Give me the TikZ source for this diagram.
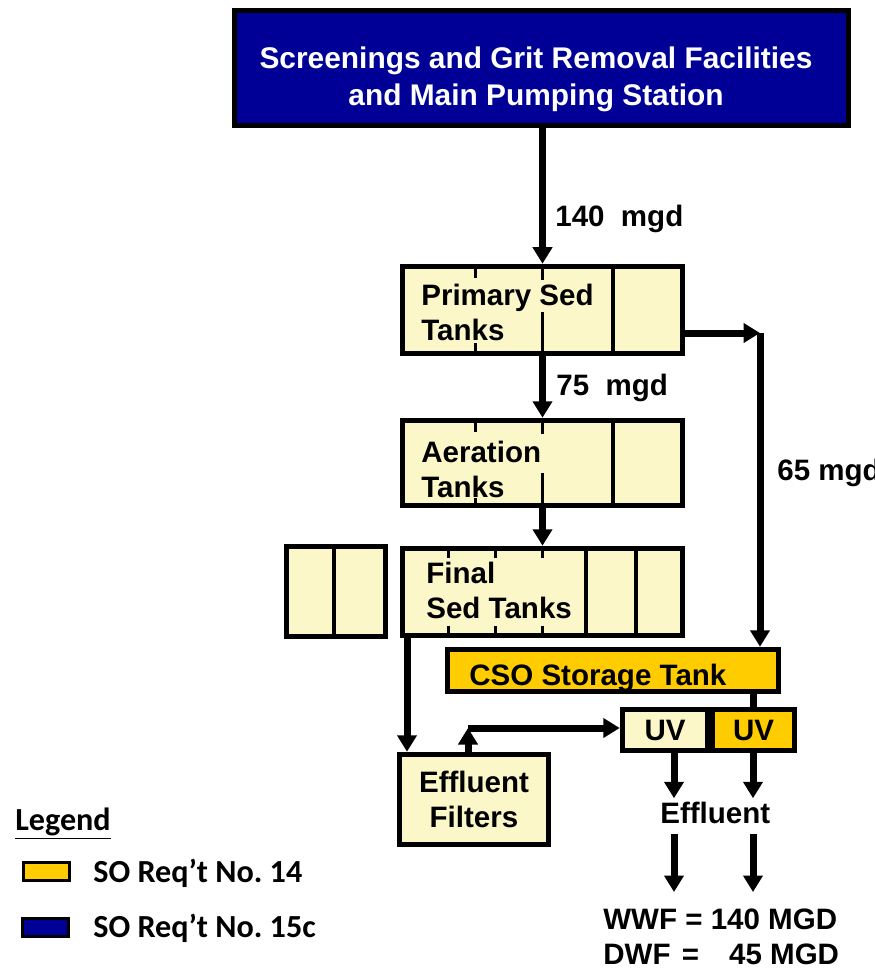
\documentclass[tikz,border=0pt]{standalone}
\usepackage{fontspec}
\setmainfont{Liberation Sans}
\newfontfamily\legendfont{Carlito}
\usetikzlibrary{arrows.meta}
\definecolor{tankfill}{HTML}{FBF7C9}
\definecolor{csofill}{HTML}{FFCC00}
\definecolor{hwfill}{HTML}{000096}

\begin{document}
\begin{tikzpicture}[x=0.2mm,y=-0.2mm,
        txt/.style={font=\fontsize{16.8}{20}\selectfont\bfseries,inner sep=0pt},
        leg/.style={font=\fontsize{18.3}{20}\legendfont\bfseries,inner sep=0pt},
        flow/.style={line width=1.4mm,-{Triangle[length=3.3mm,width=3.8mm]}},
        part/.style={line width=0.7mm},
        tick/.style={line width=0.6mm}]
    \useasboundingbox (0,0) rectangle (874,970);
    \begin{scope}[every node/.style={draw,line width=1.1mm,fill=tankfill,inner sep=0pt,
            font=\fontsize{16.8}{20}\selectfont\bfseries}]
        \node [fill=hwfill,minimum width=122.8mm,minimum height=23mm](hw) at (541.5,68) {};
        \node [minimum width=56mm,minimum height=17.4mm](prim) at (542.5,310) {};
        \node [minimum width=56mm,minimum height=17mm](aer) at (542.5,463) {};
        \node [minimum width=56mm,minimum height=17.4mm](fin) at (542.5,592) {};
        \node [minimum width=19.8mm,minimum height=18mm](spare) at (336,591.5) {};
        \node [fill=csofill,minimum width=66.2mm,minimum height=8.4mm](cso) at (613,670.5) {};
        \node [minimum width=17mm,minimum height=8.2mm](uvA) at (665,730) {UV};
        \node [fill=csofill,minimum width=16.4mm,minimum height=8.2mm](uvB) at (753.5,730) {UV};
        \node [align=center,minimum width=29.8mm,minimum height=18mm](filt) at (474,799.5) {Effluent\\Filters};
    \end{scope}
    \node [inner sep=0pt,text=white,align=center,font=\fontsize{17}{21.2}\selectfont\bfseries](hwtxt) at (536,79)
        {Screenings and Grit Removal Facilities\\and Main Pumping Station};
    % cells inside the tanks
    \draw [part] (613,0 |- prim.north) -- (613,0 |- prim.south);
    \draw [part] (613,0 |- aer.north) -- (613,0 |- aer.south);
    \draw [part] (586,0 |- fin.north) -- (586,0 |- fin.south);
    \draw [part] (636,0 |- fin.north) -- (636,0 |- fin.south);
    \draw [part] (334,0 |- spare.north) -- (334,0 |- spare.south);
    \draw [tick] (475,264) -- (475,278); \draw [tick] (475,343) -- (475,356);
    \draw [tick] (542,264) -- (542,280); \draw [tick] (542,312) -- (542,356);
    \draw [tick] (475,418) -- (475,432); \draw [tick] (475,498) -- (475,508);
    \draw [tick] (542,418) -- (542,434); \draw [tick] (542,473) -- (542,508);
    \foreach \x in {448,495,542}{
        \draw [tick] (\x,546) -- (\x,558); \draw [tick] (\x,626) -- (\x,638);
    }
    \node [txt,align=left,anchor=north west](primtxt) at (421,284) {Primary Sed\\Tanks};
    \node [txt,align=left,anchor=north west](aertxt) at (421,441) {Aeration\\Tanks};
    \node [txt,align=left,anchor=north west](fintxt) at (426,562) {Final\\Sed Tanks};
    \node [txt,anchor=base west](csotxt) at (469,685) {CSO Storage Tank};
    % flows
    \node [txt,anchor=base west](q140) at (555,227) {140~ mgd};
    \node [txt,anchor=base west](q75) at (556,395) {75~ mgd};
    \node [txt,anchor=base west](q65) at (777,480) {65 mgd};
    \coordinate (split) at (760,333);
    \coordinate (drop) at (407,0);
    \coordinate (fork) at (468,728);
    \coordinate (outA) at (674,892);
    \coordinate (outB) at (753,892);
    \draw [flow](hw.south -| prim.north) -- (prim.north);
    \draw [flow](prim) -- (aer);
    \draw [flow](aer) -- (fin);
    \draw [flow](prim.east |- split) -- (split);
    \draw [flow](split) -- (split |- cso.north);
    \draw [line width=1.4mm](uvB.north |- cso.south) -- (uvB.north);
    \draw [flow](fin.south -| drop) -- (filt.north -| drop);
    \draw [flow](filt.north -| fork) -- (fork);
    \draw [flow](fork) -- (uvA.west |- fork);
    \node [txt,anchor=base west,inner ysep=0.6mm,text depth=1.6mm](eff) at (660,823) {Effluent};
    \draw [flow](uvA.south -| outA) -- (eff.north -| outA);
    \draw [flow](uvB.south -| outB) -- (eff.north -| outB);
    \draw [flow](eff.south -| outA) -- (outA);
    \draw [flow](eff.south -| outB) -- (outB);
    \node [txt,align=left,anchor=north west,font=\fontsize{16.8}{19.5}\selectfont\bfseries](wwf) at (603,909)
        {WWF = 140 MGD\\DWF\hspace{0.6mm} =~~~\hspace{1.1mm}45 MGD};
    % legend
    \node [leg,anchor=base west](legtitle) at (15,830) {\underline{Legend}};
    \node [draw,line width=0.6mm,fill=csofill,minimum width=9.2mm,minimum height=3.6mm](key14) at (46.5,871.5) {};
    \node [draw,line width=0.6mm,fill=hwfill,minimum width=9.2mm,minimum height=3.6mm](key15) at (45.5,927) {};
    \node [leg,anchor=base west](leg14) at (93,882) {SO Req’t No.\ 14};
    \node [leg,anchor=base west](leg15) at (93,937) {SO Req’t No.\ 15c};
\end{tikzpicture}
\end{document}
